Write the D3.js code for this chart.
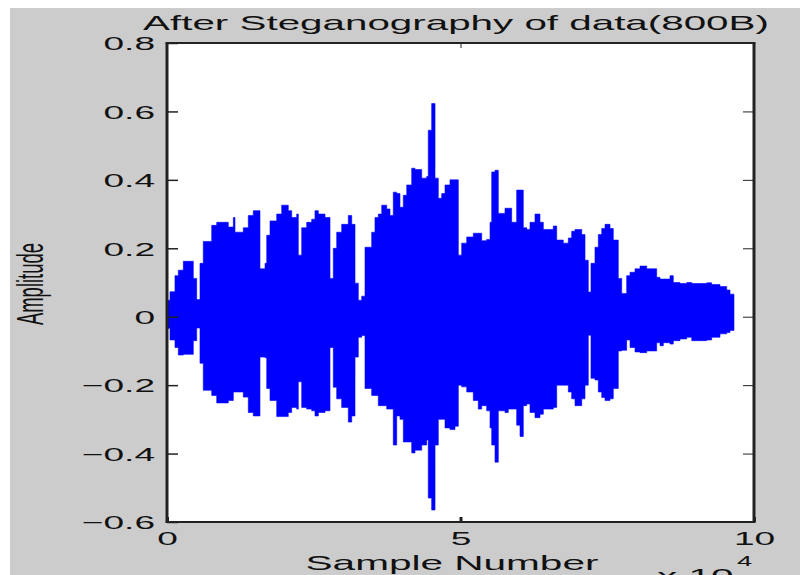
<!DOCTYPE html>
<html>
<head>
<meta charset="utf-8">
<script src="https://cdn.jsdelivr.net/npm/d3@7"></script>
<style>
  body { margin: 0; background: #fff; }
  svg { display: block; }
  text { font-family: "Liberation Sans", Arial, sans-serif; fill: #111; }
</style>
</head>
<body>
<script>
// envelope of the signal (peak values per stretch of samples)
const sampleIdx = [0, 510, 1360, 1930, 2780, 4480, 5060, 5620, 6180, 7620,
  8470, 10440, 11300, 11580, 13000, 13850, 14700, 15840, 16700, 16990,
  17550, 18690, 19540, 20660, 21240, 22100, 22370, 22950, 23800, 24650,
  25210, 25780, 26920, 27770, 28330, 28910, 29760, 30890, 31470, 32030,
  32590, 33170, 33730, 34870, 35430, 36000, 36580, 37430, 37990, 38550,
  39130, 39690, 40260, 40840, 41690, 42250, 43390, 44240, 44510, 45090,
  45660, 46220, 46800, 47360, 48210, 49060, 49630, 50200, 51060, 52180,
  53030, 53610, 54460, 55030, 55320, 55880, 56440, 57580, 58140, 58720,
  59570, 60140, 60700, 61280, 61840, 62690, 63540, 64110, 65810, 66390,
  67510, 68370, 68940, 69510, 70650, 71210, 71770, 72230, 72910, 73480,
  74060, 74620, 75470, 76030, 76880, 77460, 78310, 78880, 79730, 80580,
  81720, 83420, 83990, 84550, 85690, 86250, 87390, 88540, 89390, 91940,
  92790, 94210, 95350, 95910, 96590];
const upperEnv = [0.048, 0.073, 0.12, 0.136, 0.162, 0.112, 0.05, 0.156, 0.22, 0.267,
  0.276, 0.262, 0.29, 0.247, 0.26, 0.296, 0.31, 0.14, 0.156, 0.238,
  0.28, 0.30, 0.326, 0.31, 0.29, 0.30, 0.18, 0.26, 0.276, 0.285,
  0.31, 0.30, 0.29, 0.112, 0.2, 0.247, 0.27, 0.296, 0.27, 0.098,
  0.048, 0.06, 0.203, 0.247, 0.29, 0.30, 0.326, 0.315, 0.296, 0.364,
  0.36, 0.32, 0.355, 0.385, 0.434, 0.43, 0.405, 0.41, 0.545, 0.623,
  0.405, 0.346, 0.36, 0.385, 0.40, 0.40, 0.18, 0.215, 0.233, 0.244,
  0.244, 0.222, 0.226, 0.276, 0.423, 0.428, 0.302, 0.317, 0.317, 0.276,
  0.37, 0.37, 0.26, 0.255, 0.276, 0.30, 0.276, 0.255, 0.265, 0.224,
  0.215, 0.23, 0.25, 0.255, 0.24, 0.165, 0.072, 0.156, 0.203, 0.24,
  0.258, 0.27, 0.258, 0.224, 0.112, 0.068, 0.12, 0.13, 0.14, 0.148,
  0.14, 0.115, 0.11, 0.11, 0.12, 0.1, 0.097, 0.10, 0.097, 0.099,
  0.094, 0.088, 0.078, 0.066, 0.066];
const lowerEnv = [-0.034, -0.068, -0.09, -0.112, -0.11, -0.07, -0.033, -0.136, -0.215, -0.23,
  -0.252, -0.245, -0.22, -0.22, -0.235, -0.28, -0.29, -0.118, -0.12, -0.21,
  -0.245, -0.292, -0.292, -0.28, -0.265, -0.27, -0.19, -0.265, -0.27, -0.275,
  -0.29, -0.28, -0.275, -0.09, -0.206, -0.24, -0.265, -0.308, -0.29, -0.118,
  -0.06, -0.055, -0.21, -0.23, -0.23, -0.26, -0.26, -0.27, -0.27, -0.375,
  -0.29, -0.30, -0.366, -0.366, -0.398, -0.39, -0.375, -0.36, -0.53, -0.565,
  -0.375, -0.30, -0.30, -0.325, -0.33, -0.32, -0.2, -0.205, -0.22, -0.245,
  -0.27, -0.26, -0.275, -0.325, -0.375, -0.425, -0.275, -0.28, -0.27, -0.27,
  -0.317, -0.35, -0.26, -0.255, -0.28, -0.295, -0.285, -0.27, -0.265, -0.2,
  -0.2, -0.22, -0.24, -0.26, -0.24, -0.2, -0.054, -0.18, -0.185, -0.22,
  -0.236, -0.245, -0.24, -0.21, -0.1, -0.098, -0.068, -0.09, -0.103, -0.105,
  -0.10, -0.076, -0.085, -0.076, -0.08, -0.07, -0.065, -0.06, -0.07, -0.068,
  -0.06, -0.05, -0.046, -0.04, -0.04];

const xTicks = [0, 50000, 100000];
const yTicks = [-0.6, -0.4, -0.2, 0, 0.2, 0.4, 0.6, 0.8];
const title = "After Steganography of data(800B)";
const xLabel = "Sample Number";
const yLabel = "Amplitude";

const W = 803, H = 575;
const pLeft = 167, pRight = 754, pTop = 43, pBottom = 522;
const sx = 1.95; // the figure text is stretched sideways

const svg = d3.select("body").append("svg")
  .attr("width", W)
  .attr("height", H);

svg.append("rect")
  .attr("x", 10).attr("y", 8)
  .attr("width", 790).attr("height", H - 8)
  .attr("fill", "#cccccc");

svg.append("rect")
  .attr("x", pLeft).attr("y", pTop)
  .attr("width", pRight - pLeft).attr("height", pBottom - pTop)
  .attr("fill", "#fff");

const x = d3.scaleLinear().domain([0, 100000]).range([pLeft, pRight]);
const y = d3.scaleLinear().domain([-0.6, 0.8]).range([pBottom, pTop]);

const env = sampleIdx.map((s, i) => ({ s: s, hi: upperEnv[i], lo: lowerEnv[i] }));

const area = d3.area()
  .x(d => x(d.s))
  .y0(d => y(d.lo))
  .y1(d => y(d.hi))
  .curve(d3.curveStepAfter);

svg.append("path")
  .datum(env)
  .attr("d", area)
  .attr("fill", "#0000ff")
  .attr("stroke", "#0000ff")
  .attr("stroke-width", 0.6);

// axes, ticks pointing inward
const gLeft = svg.append("g")
  .attr("transform", `translate(${pLeft},0)`)
  .call(d3.axisLeft(y).tickValues(yTicks).tickSize(-11).tickFormat(d3.format("")));
const gBottom = svg.append("g")
  .attr("transform", `translate(0,${pBottom})`)
  .call(d3.axisBottom(x).tickValues(xTicks).tickSize(-5).tickFormat(d => d / 10000));
svg.append("g")
  .attr("transform", `translate(${pRight},0)`)
  .call(d3.axisRight(y).tickValues(yTicks).tickSize(-11).tickFormat(""));
svg.append("g")
  .attr("transform", `translate(0,${pTop})`)
  .call(d3.axisTop(x).tickValues(xTicks).tickSize(-5).tickFormat(""));

svg.selectAll(".domain").remove();
svg.selectAll(".tick line").attr("stroke", "#222");
gLeft.selectAll(".tick line").attr("stroke-width", 1.5);
gBottom.selectAll(".tick line").attr("stroke-width", 3);

gLeft.selectAll(".tick text")
  .attr("x", 0).attr("dy", "0.36em")
  .attr("text-anchor", "end")
  .attr("transform", `translate(-12,0) scale(${sx},1)`)
  .style("font-size", "19px")
  .attr("fill", "#111");

gBottom.selectAll(".tick text")
  .attr("y", 0).attr("dy", 0)
  .attr("text-anchor", "middle")
  .attr("transform", `translate(0,23) scale(${sx},1)`)
  .style("font-size", "19px")
  .attr("fill", "#111");

// box
svg.append("line").attr("x1", pLeft).attr("x2", pLeft).attr("y1", pTop).attr("y2", pBottom)
  .attr("stroke", "#222").attr("stroke-width", 3);
svg.append("line").attr("x1", pRight).attr("x2", pRight).attr("y1", pTop).attr("y2", pBottom)
  .attr("stroke", "#222").attr("stroke-width", 3);
svg.append("line").attr("x1", pLeft - 1.5).attr("x2", pRight + 1.5).attr("y1", pTop).attr("y2", pTop)
  .attr("stroke", "#222").attr("stroke-width", 2);
svg.append("line").attr("x1", pLeft - 1.5).attr("x2", pRight + 1.5).attr("y1", pBottom).attr("y2", pBottom)
  .attr("stroke", "#222").attr("stroke-width", 2);

svg.append("text")
  .attr("text-anchor", "middle")
  .attr("transform", `translate(456,30) scale(${sx},1)`)
  .style("font-size", "20.7px")
  .text(title);

svg.append("text")
  .attr("text-anchor", "middle")
  .attr("transform", `translate(452,570) scale(${sx},1)`)
  .style("font-size", "20.8px")
  .text(xLabel);

svg.append("text")
  .attr("text-anchor", "start")
  .attr("transform", `translate(657,583) scale(${sx},1)`)
  .style("font-size", "20.8px")
  .text("x 10");
svg.append("text")
  .attr("text-anchor", "start")
  .attr("transform", `translate(737,566) scale(${sx},1)`)
  .style("font-size", "14px")
  .text("4");

svg.append("text")
  .attr("text-anchor", "middle")
  .attr("transform", `translate(43,284) scale(${sx},1) rotate(-90)`)
  .style("font-size", "18.5px")
  .text(yLabel);
</script>
</body>
</html>
